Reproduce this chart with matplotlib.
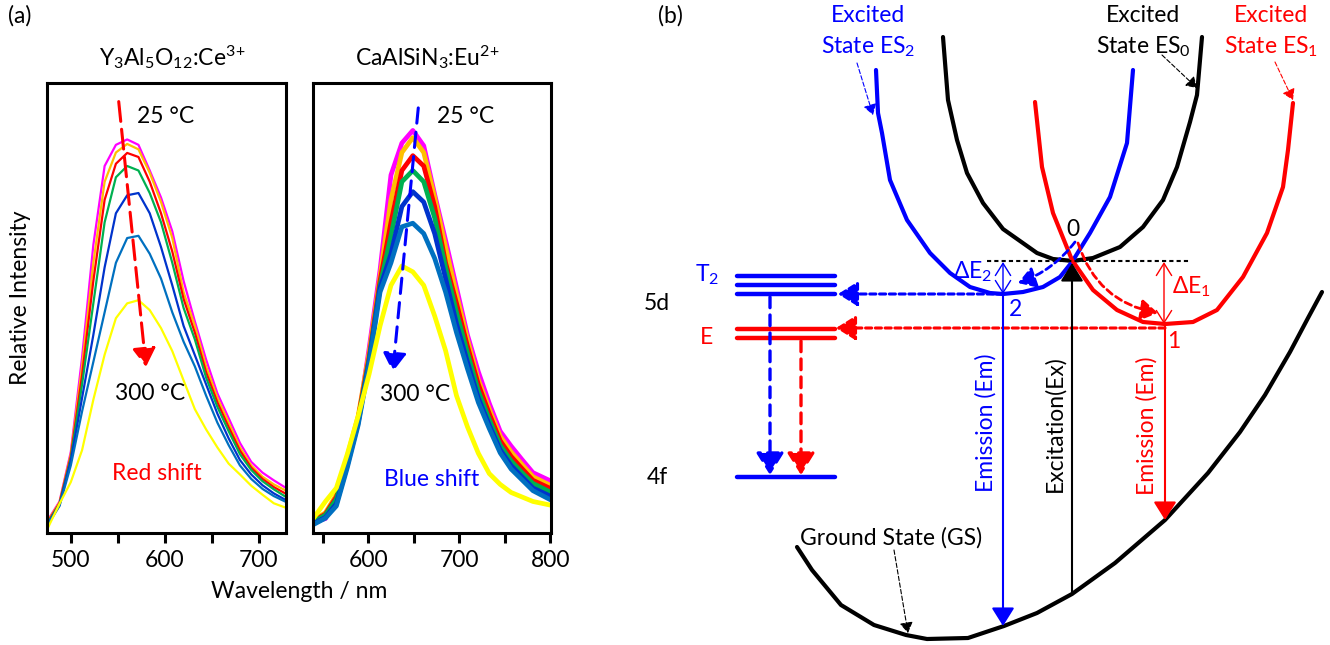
import matplotlib
matplotlib.use("Agg")
import matplotlib.pyplot as plt

plt.rcParams['font.family'] = ['Lato', 'DejaVu Sans']
plt.rcParams['mathtext.fontset'] = 'custom'
plt.rcParams['mathtext.rm'] = 'Lato'
plt.rcParams['mathtext.default'] = 'regular'
plt.rcParams['font.size'] = 16.5

# -------------------------------------------------------------------
# Spectra (relative intensity), 25 C -> 300 C
# -------------------------------------------------------------------
curve_colors = ['#FF00FF', '#FFC000', '#FF0000', '#00B050', '#0033CC', '#0070C0', '#FFFF00']

wl_yag = [476, 488, 500, 512, 524, 536, 548, 560, 572, 584, 596, 608, 620, 632, 644, 656, 668, 680, 692, 704, 716, 729]
yag_magenta = [0.03, 0.07, 0.18, 0.39, 0.64, 0.815, 0.862, 0.874, 0.862, 0.805, 0.745, 0.67, 0.56, 0.47, 0.385, 0.31, 0.255, 0.2, 0.158, 0.134, 0.117, 0.1]
yag_orange = [0.028, 0.068, 0.175, 0.37, 0.6, 0.78, 0.845, 0.864, 0.852, 0.8, 0.735, 0.655, 0.535, 0.46, 0.37, 0.3, 0.245, 0.19, 0.15, 0.125, 0.108, 0.094]
yag_red = [0.026, 0.066, 0.17, 0.35, 0.56, 0.74, 0.82, 0.844, 0.835, 0.78, 0.71, 0.625, 0.52, 0.445, 0.357, 0.29, 0.235, 0.183, 0.145, 0.12, 0.102, 0.087]
yag_green = [0.024, 0.064, 0.165, 0.33, 0.51, 0.69, 0.79, 0.815, 0.805, 0.755, 0.69, 0.6, 0.5, 0.43, 0.345, 0.28, 0.226, 0.175, 0.14, 0.115, 0.097, 0.08]
yag_blue = [0.022, 0.062, 0.16, 0.3, 0.44, 0.59, 0.71, 0.75, 0.755, 0.71, 0.635, 0.55, 0.46, 0.395, 0.33, 0.265, 0.21, 0.162, 0.13, 0.106, 0.088, 0.073]
yag_steel = [0.02, 0.06, 0.15, 0.27, 0.38, 0.49, 0.6, 0.655, 0.66, 0.62, 0.565, 0.49, 0.425, 0.37, 0.305, 0.245, 0.195, 0.15, 0.12, 0.098, 0.082, 0.069]
yag_yellow = [0.013, 0.065, 0.113, 0.184, 0.296, 0.396, 0.477, 0.51, 0.517, 0.495, 0.455, 0.404, 0.339, 0.275, 0.23, 0.19, 0.154, 0.13, 0.105, 0.085, 0.066, 0.056]

wl_casn = [541, 553, 565, 577, 589, 601, 613, 625, 637, 649, 661, 673, 685, 697, 709, 721, 733, 745, 757, 769, 781, 800]
casn_magenta = [0.025, 0.032, 0.08, 0.165, 0.25, 0.41, 0.584, 0.795, 0.866, 0.894, 0.86, 0.752, 0.65, 0.545, 0.44, 0.358, 0.288, 0.226, 0.193, 0.163, 0.134, 0.116]
casn_orange = [0.03, 0.045, 0.085, 0.17, 0.26, 0.4, 0.57, 0.74, 0.845, 0.878, 0.845, 0.745, 0.635, 0.53, 0.43, 0.34, 0.275, 0.215, 0.18, 0.152, 0.125, 0.106]
casn_red = [0.028, 0.042, 0.08, 0.165, 0.255, 0.39, 0.56, 0.69, 0.805, 0.838, 0.815, 0.725, 0.6, 0.51, 0.415, 0.33, 0.265, 0.205, 0.17, 0.143, 0.117, 0.099]
casn_green = [0.026, 0.04, 0.075, 0.16, 0.25, 0.385, 0.55, 0.66, 0.78, 0.805, 0.78, 0.7, 0.59, 0.49, 0.4, 0.315, 0.252, 0.195, 0.16, 0.134, 0.11, 0.091]
casn_blue = [0.022, 0.035, 0.065, 0.15, 0.245, 0.38, 0.545, 0.62, 0.725, 0.758, 0.735, 0.665, 0.565, 0.465, 0.38, 0.3, 0.24, 0.185, 0.15, 0.125, 0.1, 0.082]
casn_steel = [0.02, 0.033, 0.06, 0.145, 0.24, 0.375, 0.535, 0.6, 0.68, 0.688, 0.665, 0.61, 0.535, 0.445, 0.365, 0.29, 0.232, 0.178, 0.142, 0.118, 0.094, 0.074]
casn_yellow = [0.036, 0.07, 0.1, 0.175, 0.26, 0.353, 0.46, 0.55, 0.593, 0.58, 0.55, 0.482, 0.405, 0.305, 0.236, 0.177, 0.132, 0.108, 0.09, 0.08, 0.07, 0.062]

yag_curves = [yag_magenta, yag_orange, yag_red, yag_green, yag_blue, yag_steel, yag_yellow]
casn_curves = [casn_magenta, casn_orange, casn_red, casn_green, casn_blue, casn_steel, casn_yellow]

yag_ticks = [500, 550, 600, 650, 700]
yag_ticklabels = ['500', '', '600', '', '700']
casn_ticks = [550, 600, 650, 700, 750, 800]
casn_ticklabels = ['', '600', '', '700', '', '800']

# -------------------------------------------------------------------
# Configuration coordinate diagram (pixel-like units, y down)
# -------------------------------------------------------------------
gs_x = [797, 812, 841, 874, 906, 927, 968, 1004, 1037, 1072, 1115, 1165, 1208, 1240, 1265, 1290, 1308, 1322]
gs_y = [547, 570, 605, 625, 635, 639, 638, 626, 613, 594, 563, 520, 473, 432, 395, 352, 318, 292]

es0_x = [943, 948, 957, 967, 983, 1003, 1037, 1053, 1073, 1093, 1120, 1143, 1163, 1177, 1190, 1197, 1202]
es0_y = [37, 100, 140, 173, 203, 229, 253, 259, 261, 258, 247, 227, 200, 167, 122, 95, 37]

es2_x = [876, 878, 882, 890, 907, 930, 950, 970, 990, 1003, 1023, 1043, 1060, 1072, 1090, 1110, 1127, 1133]
es2_y = [70, 113, 133, 180, 220, 253, 273, 287, 293, 294, 292, 287, 277, 262, 233, 197, 143, 70]

es1_x = [1035, 1042, 1053, 1072, 1093, 1117, 1143, 1165, 1193, 1217, 1243, 1267, 1283, 1288, 1293]
es1_y = [102, 167, 213, 260, 290, 310, 322, 324, 322, 310, 277, 233, 187, 150, 103]

level_x = [737, 835]
t2_levels = [276, 285, 294]
e_levels = [329, 338]
f4_level = 477


def arrow(ax, x0, y0, x1, y1, color, lw=1.5, ls='-', ms=30, style='-|>,head_length=0.4,head_width=0.25', rad=0.0, z=3):
    ax.annotate("", xy=(x1, y1), xytext=(x0, y0),
                arrowprops=dict(arrowstyle=style, color=color, lw=lw, linestyle=ls,
                                mutation_scale=ms, shrinkA=0, shrinkB=0,
                                connectionstyle="arc3,rad=%s" % rad),
                zorder=z)


fig = plt.figure(figsize=(13.3, 6.45), dpi=100)

# -------------------------------------------------------------------
# Panel (a)
# -------------------------------------------------------------------
ax1 = fig.add_axes([47.3 / 1330, 112 / 645, 238.7 / 1330, 450.3 / 645])
ax2 = fig.add_axes([312.7 / 1330, 112 / 645, 238.0 / 1330, 450.3 / 645])

for vals, col in zip(yag_curves, curve_colors):
    ax1.plot(wl_yag, vals, color=col, lw=1.6)
for vals, col in zip(casn_curves, curve_colors):
    ax2.plot(wl_casn, vals, color=col, lw=3.4)

ax1.set_xlim(475, 729)
ax2.set_xlim(539, 800.5)
for ax, ticks, labels in [(ax1, yag_ticks, yag_ticklabels), (ax2, casn_ticks, casn_ticklabels)]:
    ax.set_ylim(0, 1)
    ax.set_yticks([])
    ax.set_xticks(ticks)
    ax.set_xticklabels(labels)
    ax.tick_params(axis='x', direction='out', length=7, width=2.2, labelsize=16.5, pad=5)
    for sp in ax.spines.values():
        sp.set_linewidth(2.2)

arrow(ax1, 551, 0.958, 580, 0.369, '#FF0000', lw=2.2, ls=(0, (6.5, 2.6)), ms=28)
ax1.text(601, 0.924, '25 °C', ha='center', va='center')
ax1.text(584, 0.31, '300 °C', ha='center', va='center')
ax1.text(591, 0.133, 'Red shift', ha='center', va='center', color='#FF0000')

arrow(ax2, 655, 0.944, 627, 0.358, '#0000FF', lw=2.2, ls=(0, (5, 3)), ms=28)
ax2.text(707, 0.924, '25 °C', ha='center', va='center')
ax2.text(652, 0.308, '300 °C', ha='center', va='center')
ax2.text(670, 0.118, 'Blue shift', ha='center', va='center', color='#0000FF')

fig.text(20 / 1330, 1 - 16 / 645, '(a)', ha='center', va='center')
fig.text(172 / 1330, 1 - 57 / 645, r'Y$_3$Al$_5$O$_{12}$:Ce$^{3\!+}$', ha='center', va='center')
fig.text(428 / 1330, 1 - 57 / 645, r'CaAlSiN$_3$:Eu$^{2\!+}$', ha='center', va='center')
fig.text(21 / 1330, 1 - 298 / 645, 'Relative Intensity', ha='center', va='center', rotation=90)
fig.text(299 / 1330, 1 - 592 / 645, 'Wavelength / nm', ha='center', va='center')

# -------------------------------------------------------------------
# Panel (b)
# -------------------------------------------------------------------
axb = fig.add_axes([640 / 1330, 0, 690 / 1330, 1])
axb.set_xlim(640, 1330)
axb.set_ylim(645, 0)
axb.axis('off')

axb.plot(gs_x, gs_y, color='black', lw=3, solid_capstyle='round')
axb.plot(es0_x, es0_y, color='black', lw=3, solid_capstyle='round')
axb.plot(es2_x, es2_y, color='#0000FF', lw=3, solid_capstyle='round')
axb.plot(es1_x, es1_y, color='#FF0000', lw=3, solid_capstyle='round')

for y in t2_levels:
    axb.plot(level_x, [y, y], color='#0000FF', lw=3.2, solid_capstyle='round')
for y in e_levels:
    axb.plot(level_x, [y, y], color='#FF0000', lw=3.2, solid_capstyle='round')
axb.plot(level_x, [f4_level, f4_level], color='#0000FF', lw=3.2, solid_capstyle='round')

# horizontal reference at ES0 minimum
axb.plot([987, 1190], [261, 261], color='black', lw=1.5, linestyle=(0, (2, 1.5)))

# transfers to the level scheme
arrow(axb, es2_x[9], es2_y[9], level_x[1] + 3, t2_levels[2], '#0000FF', lw=2.2, ls=(0, (2, 1.2)))
arrow(axb, es1_x[7], 328, level_x[1] + 1, 328, '#FF0000', lw=2.2, ls=(0, (2, 1.2)))
arrow(axb, 770, 297, 770, f4_level - 2, '#0000FF', lw=2.4, ls=(0, (3.2, 2.2)), ms=34)
arrow(axb, 801, 341, 801, f4_level - 2, '#FF0000', lw=2.4, ls=(0, (3.2, 2.2)), ms=34)

# emission / excitation
arrow(axb, 1003, 296, 1003, 626, '#0000FF', lw=1.5, ms=28)
arrow(axb, 1072, 594, 1072, 263, 'black', lw=1.5, ms=28)
arrow(axb, 1165, 326, 1165, 520, '#FF0000', lw=1.5, ms=28)

# energy gaps
arrow(axb, 1003, 262, 1003, 294, '#0000FF', lw=1.0, style='<->,head_length=0.4,head_width=0.25', ms=22)
arrow(axb, 1164, 262, 1164, 324, '#FF0000', lw=1.0, style='<->,head_length=0.4,head_width=0.25', ms=22)

# relaxation from point 0
arrow(axb, 1075, 242, 1018, 283, '#0000FF', lw=2.0, ls=(0, (2.5, 1.5)), ms=26, rad=-0.15)
arrow(axb, 1078, 243, 1158, 313, '#FF0000', lw=2.0, ls=(0, (2.5, 1.5)), ms=26, rad=0.3)

# label pointers
arrow(axb, 857, 63, 873, 115, '#0000FF', lw=0.8, ls=(0, (4, 2)), ms=16)
arrow(axb, 1162, 55, 1197, 88, 'black', lw=0.8, ls=(0, (4, 2)), ms=16)
arrow(axb, 1275, 62, 1293, 100, '#FF0000', lw=0.8, ls=(0, (4, 2)), ms=16)
arrow(axb, 894, 550, 908, 633, 'black', lw=0.8, ls=(0, (4, 2)), ms=16)

axb.text(670, 16, '(b)', ha='center', va='center')
axb.text(868, 15, 'Excited', ha='center', va='center', color='#0000FF')
axb.text(868, 47, r'State ES$_2$', ha='center', va='center', color='#0000FF')
axb.text(1143, 15, 'Excited', ha='center', va='center', color='black')
axb.text(1143, 47, r'State ES$_0$', ha='center', va='center', color='black')
axb.text(1271, 15, 'Excited', ha='center', va='center', color='#FF0000')
axb.text(1271, 47, r'State ES$_1$', ha='center', va='center', color='#FF0000')

axb.text(707, 275, r'T$_2$', ha='center', va='center', color='#0000FF')
axb.text(707, 337, 'E', ha='center', va='center', color='#FF0000')
axb.text(657, 304, '5d', ha='center', va='center')
axb.text(657, 478, '4f', ha='center', va='center')

axb.text(973, 272, r'ΔE$_2$', ha='center', va='center', color='#0000FF')
axb.text(1192, 287, r'ΔE$_1$', ha='center', va='center', color='#FF0000')
axb.text(1073, 230, '0', ha='center', va='center')
axb.text(1015, 309, '2', ha='center', va='center', color='#0000FF')
axb.text(1174, 341, '1', ha='center', va='center', color='#FF0000')

axb.text(986, 423, 'Emission (Em)', ha='center', va='center', rotation=90, color='#0000FF')
axb.text(1055, 424, 'Excitation(Ex)', ha='center', va='center', rotation=90)
axb.text(1147, 426, 'Emission (Em)', ha='center', va='center', rotation=90, color='#FF0000')
axb.text(891, 538, 'Ground State (GS)', ha='center', va='center')

fig.savefig('out.png', dpi=100)
